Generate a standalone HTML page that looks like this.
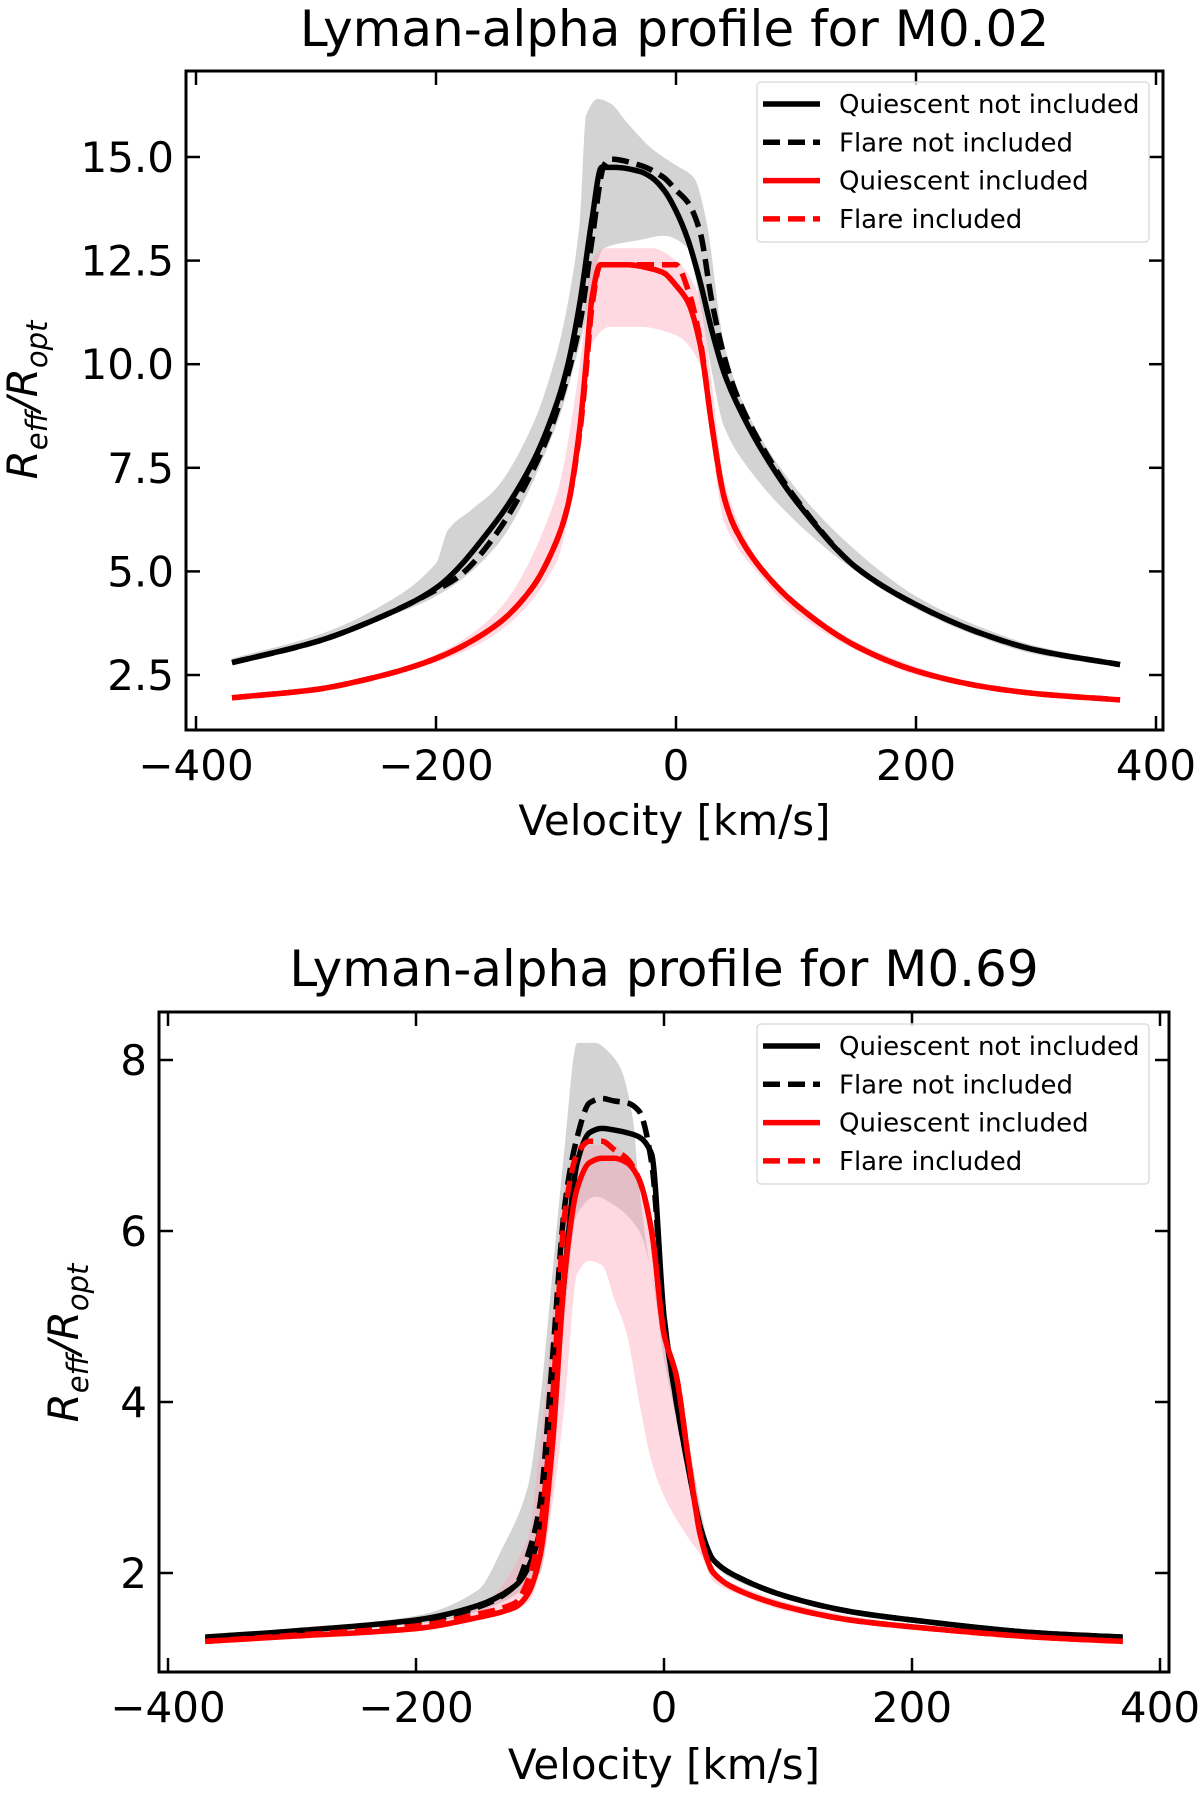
<!DOCTYPE html>
<html><head><meta charset="utf-8"><style>
body{margin:0;background:#fff}
svg text{font-family:"DejaVu Sans","Liberation Sans",sans-serif;fill:#000}
</style></head><body>
<svg id="fig" width="1200" height="1794" xmlns="http://www.w3.org/2000/svg"></svg>
<script>
// ---------- Top panel data (M0.02) ----------
const topQuiescentV=[-370,-300,-250,-200,-150,-120,-100,-90,-80,-70,-62,-50,-30,-20,-10,0,10,20,30,40,50,70,100,150,200,250,300,370];
const topQuiescentNot=[2.8,3.3,3.85,4.6,6.2,7.6,9.0,10.0,11.5,13.5,14.75,14.75,14.65,14.5,14.2,13.7,13.0,12.0,10.8,9.8,9.1,8.0,6.7,5.1,4.2,3.55,3.1,2.75];
const topFlareV=[-370,-300,-250,-200,-180,-150,-120,-100,-80,-70,-60,-55,-30,-10,0,10,20,30,40,50,70,100,150,200,250,300,370];
const topFlareNot=[2.8,3.3,3.85,4.55,4.9,5.9,7.4,8.8,11.0,13.0,14.8,14.95,14.8,14.5,14.2,13.9,13.2,11.5,10.2,9.3,8.1,6.75,5.1,4.2,3.55,3.1,2.75];
const topRedV=[-370,-300,-250,-200,-150,-120,-100,-90,-80,-75,-70,-63,-40,-20,-10,0,10,20,30,40,50,70,100,150,200,250,300,370];
const topQuiescentInc=[1.95,2.15,2.45,2.9,3.7,4.6,5.7,6.6,8.5,10.0,11.6,12.4,12.4,12.3,12.2,11.9,11.5,10.5,8.5,6.8,6.0,5.1,4.2,3.2,2.6,2.25,2.05,1.9];
const topFlareInc=[1.95,2.15,2.45,2.9,3.7,4.6,5.7,6.6,8.4,9.8,11.4,12.4,12.4,12.4,12.4,12.4,11.8,10.6,8.5,6.8,6.0,5.1,4.2,3.2,2.6,2.25,2.05,1.9];
const topGrayUpV=[-370,-300,-250,-200,-190,-170,-150,-120,-100,-90,-80,-75,-65,-55,-40,-20,0,15,25,40,60,100,150,200,250,300,370];
const topGrayUp=[2.9,3.45,4.1,5.2,6.0,6.5,7.0,8.5,10.2,11.5,13.5,16.0,16.4,16.3,15.8,15.2,14.8,14.5,13.5,10.5,8.8,7.0,5.5,4.4,3.7,3.2,2.8];
const topGrayLoV=[-370,-300,-250,-200,-150,-100,-80,-60,-30,-10,10,20,30,40,60,100,150,200,250,300,370];
const topGrayLo=[2.8,3.25,3.8,4.4,5.6,8.5,10.5,12.8,13.0,13.1,12.8,11.5,9.8,8.5,7.5,6.2,5.0,4.1,3.45,3.0,2.7];
const topPinkUpV=[-370,-300,-250,-200,-150,-100,-80,-70,-60,-20,0,20,30,40,70,100,150,200,250,300,370];
const topPinkUp=[2.0,2.2,2.5,3.0,4.0,6.8,10.0,12.5,12.8,12.8,12.5,11.6,9.5,7.2,5.2,4.3,3.3,2.7,2.3,2.1,1.92];
const topPinkLoV=[-370,-300,-250,-200,-150,-100,-80,-70,-55,-30,0,20,30,40,70,100,150,200,250,300,370];
const topPinkLo=[1.93,2.12,2.42,2.8,3.5,5.2,8.0,10.5,10.9,10.9,10.7,10.0,8.0,6.2,4.9,4.0,3.1,2.5,2.2,2.0,1.88];
const topYTicks=[2.5,5.0,7.5,10.0,12.5,15.0];
const xTicks=[-400,-200,0,200,400];
const xTickLabels=["\u2212400","\u2212200","0","200","400"];

// ---------- Bottom panel data (M0.69) ----------
const botV=[-370,-300,-200,-150,-120,-110,-100,-90,-80,-70,-60,-50,-40,-30,-20,-10,0,10,20,30,40,60,100,150,200,300,370];
const botQuiescentNot=[1.25,1.32,1.45,1.62,1.85,2.05,2.5,3.8,5.5,6.8,7.15,7.2,7.18,7.15,7.1,6.9,5.0,4.0,3.2,2.5,2.15,1.95,1.72,1.55,1.45,1.3,1.25];
const botFlareNot=[1.22,1.3,1.42,1.6,1.85,2.2,2.8,4.5,6.3,7.1,7.5,7.55,7.52,7.5,7.4,6.8,5.0,4.0,3.2,2.5,2.15,1.95,1.72,1.55,1.45,1.3,1.25];
const botQuiescentInc=[1.2,1.26,1.35,1.48,1.6,1.75,2.2,3.5,5.5,6.5,6.8,6.85,6.85,6.8,6.6,6.0,4.8,4.3,3.3,2.4,2.0,1.8,1.6,1.45,1.37,1.25,1.2];
const botFlareInc=[1.2,1.27,1.38,1.52,1.65,1.9,2.5,4.0,6.2,6.9,7.05,7.05,6.95,6.85,6.6,6.0,4.8,4.3,3.3,2.4,2.0,1.8,1.6,1.45,1.37,1.25,1.2];
const botGrayUpV=[-370,-300,-200,-150,-130,-110,-100,-90,-80,-70,-55,-45,-35,-25,-20,-10,0,20,40,60,100,150,200,300,370];
const botGrayUp=[1.27,1.34,1.5,1.8,2.3,3.0,4.0,5.5,7.0,8.2,8.2,8.1,7.9,7.3,6.5,5.5,5.0,3.5,2.2,1.98,1.75,1.58,1.48,1.33,1.27];
const botGrayLoV=[-370,-300,-200,-150,-100,-90,-80,-70,-55,-40,-20,-10,0,20,40,60,100,150,200,300,370];
const botGrayLo=[1.23,1.3,1.4,1.55,2.0,3.0,5.0,6.2,6.4,6.3,6.0,5.5,4.5,3.2,2.1,1.9,1.7,1.53,1.43,1.28,1.23];
const botPinkUpV=[-370,-300,-200,-150,-110,-100,-90,-80,-70,-40,-20,0,20,40,60,100,150,200,300,370];
const botPinkUp=[1.2,1.27,1.4,1.6,2.4,3.5,5.0,6.5,7.0,7.0,6.5,5.0,3.4,2.0,1.85,1.65,1.5,1.4,1.27,1.2];
const botPinkLoV=[-370,-300,-200,-150,-110,-100,-90,-80,-70,-60,-50,-40,-30,-20,-10,0,20,30,40,60,100,150,200,300,370];
const botPinkLo=[1.18,1.24,1.33,1.45,1.65,2.0,2.8,4.0,5.5,5.65,5.6,5.2,4.8,4.0,3.3,2.9,2.4,2.2,1.9,1.75,1.55,1.43,1.35,1.22,1.18];
const botYTicks=[2,4,6,8];

const svg=document.getElementById('fig');
const NS='http://www.w3.org/2000/svg';
function mk(tag,attrs,parent){const e=document.createElementNS(NS,tag);for(const k in attrs)e.setAttribute(k,attrs[k]);(parent||svg).appendChild(e);return e;}

// monotone cubic path through pixel points
function smooth(P,moveFirst){
  const n=P.length; if(n<2) return '';
  const d=[],m=[];
  for(let i=0;i<n-1;i++){const dx=P[i+1][0]-P[i][0];d.push(dx===0?0:(P[i+1][1]-P[i][1])/dx);}
  m[0]=d[0];m[n-1]=d[n-2];
  for(let i=1;i<n-1;i++){m[i]=(d[i-1]*d[i]<=0)?0:2/(1/d[i-1]+1/d[i]);}
  let s=(moveFirst?'M':'L')+P[0][0].toFixed(1)+','+P[0][1].toFixed(1);
  for(let i=0;i<n-1;i++){
    const h=(P[i+1][0]-P[i][0])/3;
    s+='C'+(P[i][0]+h).toFixed(1)+','+(P[i][1]+m[i]*h).toFixed(1)+' '+(P[i+1][0]-h).toFixed(1)+','+(P[i+1][1]-m[i+1]*h).toFixed(1)+' '+P[i+1][0].toFixed(1)+','+P[i+1][1].toFixed(1);
  }
  return s;
}
function smoothRev(P){
  // traverse reversed with x decreasing: flip x sign trick
  const Q=P.slice().reverse().map(p=>[-p[0],p[1]]);
  const path=smooth(Q,false);
  return path.replace(/(-?\d+\.?\d*),(-?\d+\.?\d*)/g,(a,x,y)=>(-parseFloat(x)).toFixed(1)+','+y);
}

function panel(cfg){
  const g=mk('g',{});
  
  
  const X=v=>cfg.x0+(v+400)*(cfg.x400-cfg.x0)/800;
  const Y=r=>cfg.yA+(r-cfg.rA)*(cfg.yB-cfg.yA)/(cfg.rB-cfg.rA);
  const pts=(vs,rs)=>vs.map((v,i)=>[X(v),Y(rs[i])]);
  const band=(uv,u,lv,l,fill,nm)=>{
    const d=smooth(pts(uv,u),true)+smoothRev(pts(lv,l))+'Z';
    const p=mk('path',{d:d,fill:fill,stroke:'none'},g);
    
    
  };
  band(cfg.gUV,cfg.gU,cfg.gLV,cfg.gL,'rgba(128,128,128,0.35)','gray-uncertainty-band');
  band(cfg.pUV,cfg.pU,cfg.pLV,cfg.pL,'rgba(255,160,180,0.4)','pink-uncertainty-band');
  const line=(vs,rs,color,dash,nm)=>{
    const p=mk('path',{d:smooth(pts(vs,rs),true),fill:'none',stroke:color,'stroke-width':5.5,'stroke-linejoin':'round','stroke-dasharray':dash?'17,8':'none'},g);
    
    
  };
  line(cfg.qnV,cfg.qn,'#000',false,'quiescent-not-included-line');
  line(cfg.fnV,cfg.fn,'#000',true,'flare-not-included-line');
  line(cfg.qiV,cfg.qi,'#f00',false,'quiescent-included-line');
  line(cfg.fiV,cfg.fi,'#f00',true,'flare-included-line');
  const fr=mk('rect',{x:cfg.L,y:cfg.T,width:cfg.R-cfg.L,height:cfg.B-cfg.T,fill:'none',stroke:'#000','stroke-width':3},g);
  
  
  xTicks.forEach((t,i)=>{
    const x=X(t);
    mk('line',{x1:x,x2:x,y1:cfg.B,y2:cfg.B-14,stroke:'#000','stroke-width':2.5},g);
    mk('line',{x1:x,x2:x,y1:cfg.T,y2:cfg.T+14,stroke:'#000','stroke-width':2.5},g);
    const tx=mk('text',{x:x,y:cfg.B+50,'font-size':42,'text-anchor':'middle'},g);
    tx.textContent=xTickLabels[i];
    
    
  });
  cfg.yT.forEach(t=>{
    const y=Y(t);
    mk('line',{x1:cfg.L,x2:cfg.L+14,y1:y,y2:y,stroke:'#000','stroke-width':2.5},g);
    mk('line',{x1:cfg.R,x2:cfg.R-14,y1:y,y2:y,stroke:'#000','stroke-width':2.5},g);
    const tx=mk('text',{x:cfg.L-12,y:y+15,'font-size':42,'text-anchor':'end'},g);
    tx.textContent=cfg.yFmt(t);
    
    
  });
  const ti=mk('text',{x:(cfg.L+cfg.R)/2,y:cfg.titleY,'font-size':50,'text-anchor':'middle'},g);
  ti.textContent=cfg.title;
  
  
  const xl=mk('text',{x:(cfg.L+cfg.R)/2,y:cfg.xlY,'font-size':42,'text-anchor':'middle'},g);
  xl.textContent='Velocity [km/s]';
  
  
  const yl=mk('text',{x:0,y:0,'font-size':42,'text-anchor':'middle','font-style':'italic',transform:`translate(${cfg.ylX},${cfg.ylY}) rotate(-90)`},g);
  yl.innerHTML='R<tspan font-size="29" dy="10">eff</tspan><tspan dy="-10">/R</tspan><tspan font-size="29" dy="10">opt</tspan>';
  
  
  const lg=mk('g',{},g);
  
  
  mk('rect',{x:757,y:cfg.legT,width:392,height:160,rx:4,fill:'rgba(255,255,255,0.8)',stroke:'#ddd','stroke-width':1.5},lg);
  const ents=[['Quiescent not included','#000',false],['Flare not included','#000',true],['Quiescent included','#f00',false],['Flare included','#f00',true]];
  ents.forEach((e,i)=>{
    const y=cfg.legT+22+i*38.3;
    const eg=mk('g',{},lg);
    
    
    mk('line',{x1:763,x2:820,y1:y,y2:y,stroke:e[1],'stroke-width':5.5,'stroke-dasharray':e[2]?'17,8':'none'},eg);
    const t=mk('text',{x:839,y:y+9,'font-size':26},eg);
    t.textContent=e[0];
  });
}

panel({name:'top-chart-m002',x0:196,x400:1156,L:186,R:1163,T:71,B:730,rA:15,yA:157,rB:2.5,yB:675,
  yT:topYTicks,yFmt:t=>t.toFixed(1),title:'Lyman-alpha profile for M0.02',titleY:46,xlY:835,ylX:37,ylY:400,legT:82,
  qnV:topQuiescentV,qn:topQuiescentNot,fnV:topFlareV,fn:topFlareNot,qiV:topRedV,qi:topQuiescentInc,fiV:topRedV,fi:topFlareInc,
  gUV:topGrayUpV,gU:topGrayUp,gLV:topGrayLoV,gL:topGrayLo,pUV:topPinkUpV,pU:topPinkUp,pLV:topPinkLoV,pL:topPinkLo});
panel({name:'bottom-chart-m069',x0:168,x400:1160,L:159,R:1169,T:1012,B:1672,rA:8,yA:1060,rB:2,yB:1573,
  yT:botYTicks,yFmt:t=>String(t),title:'Lyman-alpha profile for M0.69',titleY:986,xlY:1779,ylX:78,ylY:1343,legT:1024,
  qnV:botV,qn:botQuiescentNot,fnV:botV,fn:botFlareNot,qiV:botV,qi:botQuiescentInc,fiV:botV,fi:botFlareInc,
  gUV:botGrayUpV,gU:botGrayUp,gLV:botGrayLoV,gL:botGrayLo,pUV:botPinkUpV,pU:botPinkUp,pLV:botPinkLoV,pL:botPinkLo});
</script>
</body></html>
